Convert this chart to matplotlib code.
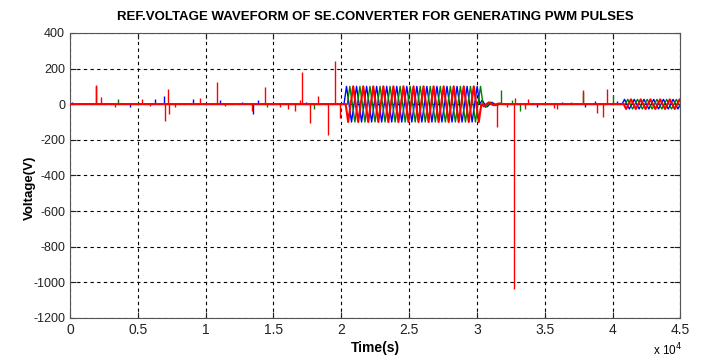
import numpy as np
import matplotlib.pyplot as plt

plt.rcParams['font.family'] = ['Liberation Sans Narrow', 'Liberation Sans', 'DejaVu Sans']
plt.rcParams['axes.unicode_minus'] = False

#  chart text
title = 'REF.VOLTAGE WAVEFORM OF SE.CONVERTER FOR GENERATING PWM PULSES'
x_label = 'Time(s)'
y_label = 'Voltage(V)'
x_ticks = [0, 5000, 10000, 15000, 20000, 25000, 30000, 35000, 40000, 45000]
x_tick_labels = ['0', '0.5', '1', '1.5', '2', '2.5', '3', '3.5', '4', '4.5']
y_ticks = [-1200, -1000, -800, -600, -400, -200, 0, 200, 400]

#  three phases, MATLAB default colour order (blue, green, red on top)
phase_names = ['a', 'b', 'c']
phase_colors = ['#0000ff', '#008000', '#ff0000']
phase_widths = [1.0, 1.0, 1.5]
phase_sign = [1, 1, -1]          # polarity of first half cycle
phase_lag = [0.0, 0.67, 0.33]    # lag in half cycles

#  large three phase burst between ~2.0e4 and ~3.0e4
burst_window = [20200, 30200]
burst_extremes = [100, -100, 100, -100, 100, -100, 100, -100, 100, -100,
                  100, -100, 100, -100, 100, -100, 100, -100, 100, -100,
                  100, -100, 100, -100, 100, -100, 100]
#  small ringing after the burst, per phase
decay_extremes = [[22, -15, 10, -6],
                  [-18, 12, -8, 5],
                  [12, -10, 6, -4]]

#  small three phase wave at the end of the record
tail_window = [40700, 45000]
tail_extremes = [27, -27, 27, -27, 27, -27, 27, -27, 27, -27, 27, -27]

#  spikes on the baseline: time, voltage, phase index
spike_time = [150, 1900, 1950, 2290, 3320, 3540, 4430, 5290, 5900, 6270,
              6900, 7000, 7200, 7300, 7750, 9100, 9590, 10820, 11060, 11400,
              12660, 13400, 13520, 13890, 14340, 14510, 15490, 16080, 16600, 16970,
              17140, 17400, 17700, 18000, 18300, 19000, 19550, 19900,
              31480, 31770, 32210, 32590, 32750, 32800, 33200, 33570, 33800, 34430,
              35660, 35900, 36270, 36900, 37820, 37850, 37990, 38730, 38850, 39300,
              39590, 40030, 40330]
spike_volt = [10, 107, 100, 40, -15, 30, -15, 28, -12, 28,
              45, -95, 85, -55, -15, 30, 35, 125, 22, -10,
              15, -40, -56, 25, 94, -15, -15, -25, -40, 22,
              180, 15, -103, -25, 47, -174, 241, -80,
              -127, 79, -15, 25, -1040, 35, -40, -25, 30, -15,
              -20, -25, 12, 12, 79, 70, -15, 20, -50, -70,
              88, 50, 20]
spike_phase = [0, 2, 0, 2, 2, 1, 0, 2, 2, 0,
               0, 2, 2, 2, 2, 0, 2, 2, 0, 1,
               0, 2, 0, 0, 2, 1, 2, 2, 2, 2,
               2, 0, 2, 1, 2, 2, 2, 2,
               2, 1, 2, 1, 2, 2, 1, 2, 2, 0,
               2, 2, 0, 2, 2, 1, 0, 0, 2, 2,
               2, 1, 0]


def phase_trace(k):
    #  build one phase as a single polyline: baseline, burst, ringing,
    #  baseline, tail wave
    t = [0.0]
    v = [0.0]
    h = (burst_window[1] - burst_window[0]) / len(burst_extremes)
    t0 = burst_window[0] + phase_lag[k] * h
    t.append(t0)
    v.append(0.0)
    vals = [phase_sign[k] * e for e in burst_extremes] + \
        [phase_sign[k] * e for e in decay_extremes[k]]
    for i, e in enumerate(vals):
        t += [t0 + (i + 0.5) * h, t0 + (i + 1) * h]
        v += [e, 0.0]
    h2 = (tail_window[1] - tail_window[0]) / len(tail_extremes)
    t1 = tail_window[0] + phase_lag[k] * h2
    t.append(t1)
    v.append(0.0)
    for i, e in enumerate(tail_extremes):
        t += [t1 + (i + 0.5) * h2, t1 + (i + 1) * h2]
        v += [phase_sign[k] * e, 0.0]
    return np.array(t), np.array(v)


fig = plt.figure(figsize=(7.04, 3.58), dpi=100)
ax = fig.add_axes([0.0994, 0.112, 0.8671, 0.796])

spike_time = np.array(spike_time)
spike_volt = np.array(spike_volt)
spike_phase = np.array(spike_phase)

for k, name in enumerate(phase_names):
    t, v = phase_trace(k)
    ax.plot(t, v, color=phase_colors[k], linewidth=phase_widths[k],
            label=name, zorder=2 + k)
    sel = spike_phase == k
    ax.vlines(spike_time[sel], 0, spike_volt[sel], color=phase_colors[k],
              linewidth=1.0, zorder=2 + k)

ax.set_xlim(0, 45000)
ax.set_ylim(-1200, 400)
ax.set_xticks(x_ticks)
ax.set_xticklabels(x_tick_labels)
ax.set_yticks(y_ticks)
ax.grid(True, color='black', linestyle=(0, (3, 3)), linewidth=0.8)
ax.tick_params(direction='in', top=True, right=True, length=4,
               labelsize=9, colors='#222222')
ax.tick_params(axis='x', labelsize=10)
for s in ax.spines.values():
    s.set_color('#555555')

ax.set_title(title, fontsize=9.5, fontweight='bold', pad=9)
ax.set_xlabel(x_label, fontsize=10, fontweight='bold', labelpad=3)
ax.set_ylabel(y_label, fontsize=9.5, fontweight='bold')
ax.yaxis.set_label_coords(-0.055, 0.456)
ax.text(0.979, -0.112, r'x 10$^4$', transform=ax.transAxes, fontsize=8.5,
        ha='center', va='center')

fig.savefig('out.png', dpi=100)
